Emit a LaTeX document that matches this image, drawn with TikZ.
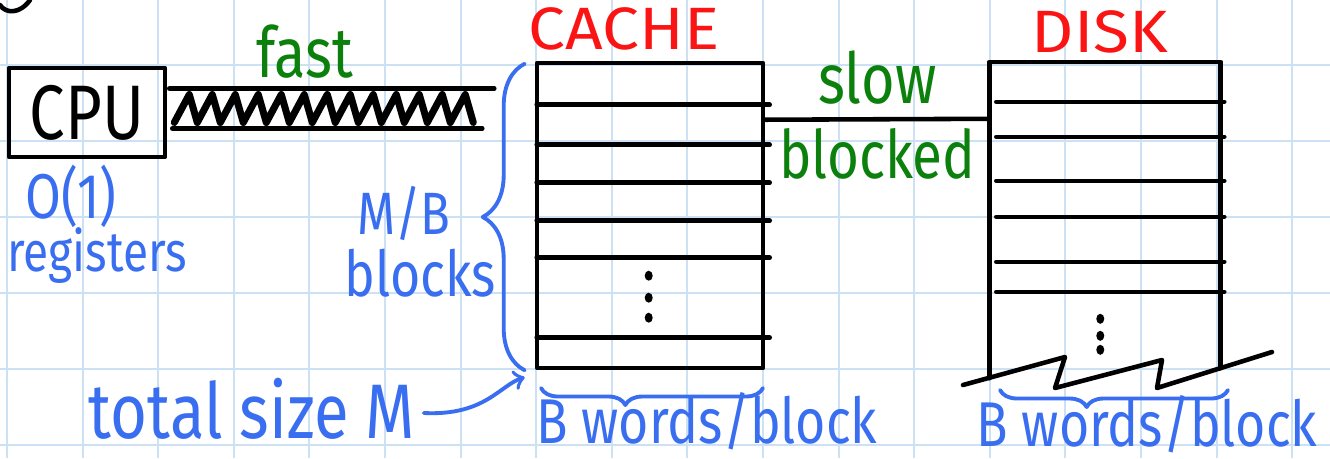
\documentclass[tikz,border=0pt]{standalone}
\usepackage{fontspec}
\usepackage{tikz}
\usetikzlibrary{shapes.geometric, arrows, positioning, decorations.pathreplacing, calc}
\newfontfamily\hand[FakeStretch=0.82]{Fira Sans}
\newfontfamily\handcaps[FakeStretch=1.1]{Fira Sans}
\definecolor{gridblue}{RGB}{204,226,244}
\definecolor{noteblue}{RGB}{58,110,240}
\definecolor{speedgreen}{RGB}{12,128,12}
\definecolor{titlered}{RGB}{250,20,20}
\tikzset{
  hand/.style={font=\hand\fontsize{#1}{#1}\selectfont, inner sep=0pt},
  hand/.default=20,
  note/.style={hand=#1, text=noteblue},
  note/.default=18,
  speed/.style={hand=#1, text=speedgreen},
  speed/.default=20,
  heading/.style={font=\handcaps\fontsize{17}{17}\selectfont, inner sep=0pt, text=titlered},
  box/.style={draw, line width=1.3pt, inner sep=0pt},
  memory/.style={minimum width=#1, minimum height=3.05cm, inner sep=0pt},
  row/.style={line width=1.3pt, line cap=round},
  dot/.style={ellipse, fill, inner sep=0pt, minimum width=0.08cm, minimum height=0.1cm},
  bracket/.style={noteblue, line width=1.1pt, line cap=round, decorate},
  arrow/.style={noteblue, line width=1.1pt, line cap=round, ->}
}

\begin{document}
\begin{tikzpicture}[x=1cm, y=-1cm, line join=round]
% paper
\useasboundingbox (0,0) rectangle (13.3,4.58);
\fill[white] (0,0) rectangle (13.3,4.58);
\foreach \k in {0,...,17}
  \draw[gridblue, line width=0.6pt] (0.07+0.756*\k,0) -- ++(0,4.58);
\foreach \k in {0,...,5}
  \draw[gridblue, line width=0.6pt] (0,0.65+0.76*\k) -- ++(13.3,0);
\draw[row] (0.0,0.05) .. controls (0.06,0.14) and (0.2,0.14) .. (0.3,0.0);

% cpu side
\node (cpu) [box, minimum width=1.56cm, minimum height=0.89cm, hand=22] at (0.87,1.125) {CPU};
\node (reg) [note] at (0.71,1.96) {O(1)};
\node (regs) [note=16] at (0.97,2.56) {registers};

% memories
\node (cache) [box, memory=2.26cm] at (6.50,2.155) {};
\node (disk) [memory=2.30cm] at (11.05,2.15) {};
\node (cachetitle) [heading, above=0.1cm of cache, xshift=-0.26cm] {CACHE};
\node (disktitle) [heading, above=0.08cm of disk, xshift=-0.05cm] {DISK};

\foreach \y in {0.44,0.84,1.22,1.60,1.97,2.77}
  \draw[row] ($(cache.north west)+(0.02,\y)$) -- ++(2.33,0);
\foreach \y in {2.15,2.37,2.57}
  \node[dot] at ($(cache.north west)+(1.14,\y)$) {};

\draw[row] ($(disk.south west)+(0,0.1)$) |- (disk.north east) -- (disk.south east);
\foreach \y in {0.40,0.75,1.19,1.55,2.00,2.30}
  \draw[row] ($(disk.north west)+(0.07,\y)$) -- ++(2.28,0);
\foreach \y in {2.57,2.74,2.88}
  \node[dot] at ($(disk.north west)+(1.11,\y)$) {};
% open end of the disk
\draw[row] (9.63,3.85) -- (10.65,3.57) -- (10.55,3.88) -- (11.62,3.60) -- (11.57,3.88) -- (12.72,3.52);

% fast link
\draw[row] ($(cpu.east)+(0.02,-0.24)$) -- ++(3.25,0) node[midway, above=0.08cm, xshift=-0.27cm, speed] (fast) {fast};
\draw[row] ($(cpu.east)+(0.05,0.16)$) -- ++(3.10,0);
\draw[line width=2pt, line cap=round] ($(cpu.east)+(0.07,0.10)$)
  \foreach \i in {1,...,13} { -- ++(0.15,-0.28) -- ++(0.08,0.28) };

% slow link
\draw[row] ($(cache.north east)+(0,0.59)$) -- ($(disk.north west)+(0,0.57)$)
  node[midway, above=0.13cm, speed] (slow) {slow}
  node[midway, below=0.07cm, speed=19] (blocked) {blocked};

% sizes
\draw[bracket, decoration={brace, amplitude=0.42cm}] ($(cache.south west)+(-0.1,0)$) -- ($(cache.north west)+(-0.1,0.03)$);
\node (mb) [note=17] at (4.04,2.13) {M/B};
\node (blocks) [note] at (4.20,2.73) {blocks};

\node (total) [note=22] at (2.52,4.09) {total size M};
\draw[arrow] ($(total.east)+(0.08,0.04)$) .. controls (4.85,4.16) and (5.0,3.85) .. ($(cache.south west)+(-0.1,0.07)$);

\draw[bracket, decoration={brace, mirror, amplitude=0.17cm, aspect=0.38}] (5.41,3.88) -- (7.63,3.88);
\node (cachewords) [note] at (7.07,4.21) {B words/block};
\draw[bracket, decoration={brace, mirror, amplitude=0.17cm, aspect=0.38}] (10.00,3.90) -- (12.28,3.90);
\node (diskwords) [note] at (11.47,4.24) {B words/block};
\end{tikzpicture}
\end{document}
